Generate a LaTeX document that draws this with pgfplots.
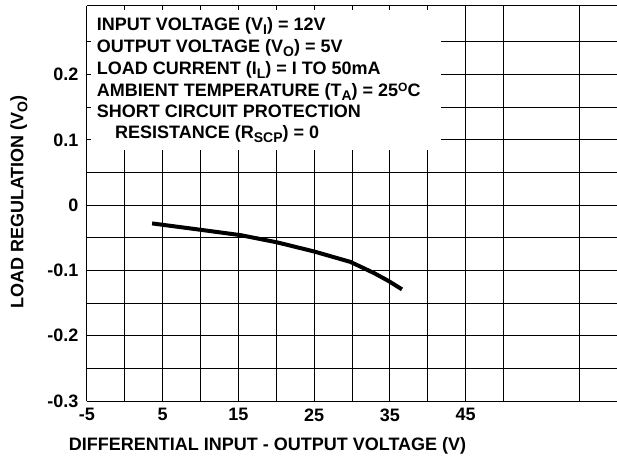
\documentclass[border=0pt]{standalone}
\usepackage{fontspec}
\setmainfont{Liberation Sans}
\usepackage{pgfplots}
\pgfplotsset{compat=1.18}
\newcommand\sub[1]{\raisebox{-4pt}{\fontsize{14}{14}\selectfont #1}}
\newcommand\super[1]{\raisebox{5pt}{\fontsize{12}{12}\selectfont #1}}
\begin{document}
\begin{tikzpicture}
\path[use as bounding box] (-87pt,-57pt) rectangle (530pt,401pt);
\begin{axis}[
  at={(0,0)}, anchor=south west,
  scale only axis, width=530pt, height=395pt,
  xmin=-5, xmax=65, ymin=-0.3, ymax=0.305,
  axis y line*=left,
  xtick={-5,5,15,25,35,45},
  xticklabels={-5,5,15,25,35,45},
  minor xtick={0,10,...,60},
  ytick={-0.3,-0.2,-0.1,0,0.1,0.2},
  yticklabels={-0.3,-0.2,-0.1,0,0.1,0.2},
  minor ytick={-0.25,-0.15,-0.05,0.05,0.15,0.25},
  grid=both,
  grid style={black, line width=1pt},
  minor grid style={black, line width=1pt},
  axis line style={black, line width=1pt},
  major tick length=0pt, minor tick length=0pt,
  ticklabel style={font=\fontsize{18}{18}\selectfont\bfseries},
  xticklabel style={yshift=-4pt},
  yticklabel style={xshift=-5pt},
]
\fill[white] (axis cs:-4.47,0.0845) rectangle (axis cs:41.8,0.2989);
\addplot[black, line width=4pt, no markers] coordinates {
  (3.6,-0.028) (9.5,-0.037) (15.3,-0.046) (20.1,-0.057) (25,-0.071)
  (29.8,-0.087) (32.9,-0.104) (34.8,-0.116) (36.6,-0.129)
};
\end{axis}
\begin{scope}[every node/.style={anchor=base west, inner sep=0pt, font=\fontsize{18}{18}\selectfont\bfseries}]
\node at (9.7pt,370pt) {INPUT VOLTAGE (V\sub{I}) = 12V};
\node at (9.7pt,348pt) {OUTPUT VOLTAGE (V\sub{O}) = 5V};
\node at (9.7pt,326.5pt) {LOAD CURRENT (I\sub{L}) = I TO 50mA};
\node at (9.7pt,304.5pt) {AMBIENT TEMPERATURE (T\sub{A}) = 25\super{O}C};
\node at (9.7pt,283pt) {SHORT CIRCUIT PROTECTION};
\node at (28pt,262pt) {RESISTANCE (R\sub{SCP}) = 0};
\end{scope}
\node[anchor=base, inner sep=0pt, font=\fontsize{18}{18}\selectfont\bfseries] at (180.5pt,-49.7pt) {DIFFERENTIAL INPUT - OUTPUT VOLTAGE (V)};
\node[anchor=base, rotate=90, inner sep=0pt, font=\fontsize{18}{18}\selectfont\bfseries] at (-63.7pt,199pt) {LOAD REGULATION (V\sub{O})};
\end{tikzpicture}
\end{document}
